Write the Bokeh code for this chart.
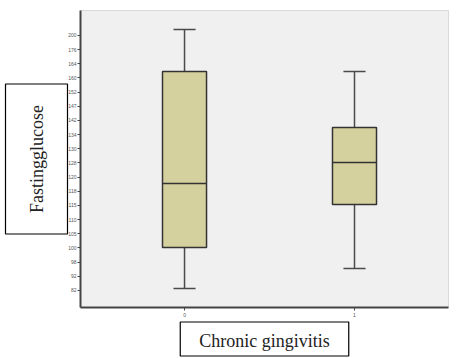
from bokeh.plotting import figure
from bokeh.models import Range1d, FixedTicker, Title
from bokeh.embed import file_html
from bokeh.resources import INLINE

# Ordinal y-axis labels (bottom to top), evenly spaced as in the source chart
y_tick_labels = ["82", "92", "98", "100", "105", "110", "115", "118", "120", "128",
                 "130", "134", "142", "147", "152", "160", "164", "176", "200"]

# Groups (Chronic gingivitis: 0 / 1)
groups = [0, 1]
group_labels = ["0", "1"]

# Box statistics, expressed as positions on the ordinal scale above
whisker_low = [0.14, 1.55]
q1 = [3.03, 6.07]
median = [7.55, 9.03]
q3 = [15.46, 11.50]
whisker_high = [18.42, 15.46]

p = figure(width=456, height=358, output_backend="svg", toolbar_location=None,
           x_range=Range1d(-0.612, 1.553), y_range=Range1d(-1.2, 19.76),
           min_border_left=80, min_border_right=8, min_border_top=10, min_border_bottom=51)

p.background_fill_color = "#f0f0f0"
p.border_fill_color = "white"
p.outline_line_color = "#d9d9d9"
p.grid.visible = False

box_w = 0.259
cap_w = 0.13
line_col = "#4a4a4a"

# whiskers
p.segment(x0=groups, y0=whisker_low, x1=groups, y1=q1, line_color=line_col, line_width=1.5)
p.segment(x0=groups, y0=q3, x1=groups, y1=whisker_high, line_color=line_col, line_width=1.5)
# caps
p.segment(x0=[g - cap_w / 2 for g in groups], y0=whisker_low,
          x1=[g + cap_w / 2 for g in groups], y1=whisker_low, line_color=line_col, line_width=1.5)
p.segment(x0=[g - cap_w / 2 for g in groups], y0=whisker_high,
          x1=[g + cap_w / 2 for g in groups], y1=whisker_high, line_color=line_col, line_width=1.5)
# boxes
p.vbar(x=groups, bottom=q1, top=q3, width=box_w, fill_color="#d5d19f",
       line_color="#333333", line_width=1.5)
# medians
p.segment(x0=[g - box_w / 2 for g in groups], y0=median,
          x1=[g + box_w / 2 for g in groups], y1=median, line_color="#333333", line_width=1.5)

# axes
p.yaxis.ticker = FixedTicker(ticks=list(range(len(y_tick_labels))))
p.yaxis.major_label_overrides = {i: lab for i, lab in enumerate(y_tick_labels)}
p.xaxis.ticker = FixedTicker(ticks=groups)
p.xaxis.major_label_overrides = {g: lab for g, lab in zip(groups, group_labels)}
for ax in (p.xaxis, p.yaxis):
    ax.axis_line_color = "#444444"
    ax.axis_line_width = 2
    ax.major_tick_line_color = "#444444"
    ax.major_tick_in = 0
    ax.major_tick_out = 3
    ax.minor_tick_line_color = None
    ax.major_label_text_font = "Liberation Sans"
    ax.major_label_text_font_size = "5px"
    ax.major_label_text_color = "#555555"
p.yaxis.major_label_standoff = 1
p.xaxis.major_label_standoff = 2

# axis titles in bordered boxes, placed in the side panels
ytitle = Title(text="Fastingglucose", align="center", standoff=-4,
               text_font="Liberation Serif", text_font_size="18px", text_color="#222222",
               text_font_style="normal",
               border_line_color="black", border_line_width=1.2,
               background_fill_color="white",
               padding={"left": 21, "right": 21, "top": 21, "bottom": 21})
xtitle = Title(text="Chronic gingivitis", align="center", standoff=1,
               text_font="Liberation Serif", text_font_size="18px", text_color="#222222",
               text_font_style="normal",
               border_line_color="black", border_line_width=1.2,
               background_fill_color="white",
               padding={"left": 19, "right": 19, "top": 9, "bottom": 5})
p.add_layout(ytitle, "left")
p.add_layout(xtitle, "below")

open("out.html", "w").write(file_html(p, INLINE))
